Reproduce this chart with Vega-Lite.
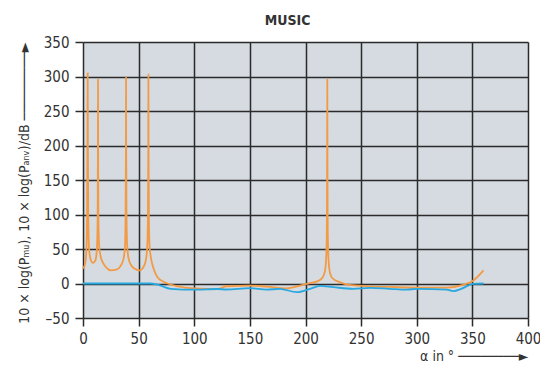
{
  "$schema": "https://vega.github.io/schema/vega-lite/v6.json",
  "autosize": {"type": "none"},
  "width": 445,
  "height": 276,
  "padding": {"left": 83, "top": 42, "right": 12, "bottom": 56},
  "background": "white",
  "title": {
    "text": "MUSIC",
    "fontSize": 14,
    "font": "DejaVu Sans Condensed, Liberation Sans, sans-serif",
    "fontWeight": "bold",
    "color": "#333333",
    "offset": 7,
    "dx": -18
  },
  "config": {
    "view": {"fill": "#d5dbe0", "stroke": null},
    "axis": {
      "labelFont": "DejaVu Sans Condensed, Liberation Sans, sans-serif",
      "titleFont": "DejaVu Sans Condensed, Liberation Sans, sans-serif",
      "labelFontSize": 15,
      "labelColor": "#333333",
      "titleColor": "#333333",
      "titleFontSize": 14,
      "titleFontWeight": "normal",
      "gridColor": "#2b2b2b",
      "gridWidth": 1.5,
      "gridOpacity": 1,
      "tickColor": "#2b2b2b",
      "tickWidth": 1.5,
      "tickSize": 8,
      "domain": false
    }
  },
  "data": {
    "values": [
      {"alpha": 0, "v": 22, "s": "mu"},
      {"alpha": 1, "v": 24, "s": "mu"},
      {"alpha": 2, "v": 30, "s": "mu"},
      {"alpha": 3, "v": 45, "s": "mu"},
      {"alpha": 3.7, "v": 100, "s": "mu"},
      {"alpha": 4.0, "v": 200, "s": "mu"},
      {"alpha": 4.2, "v": 305, "s": "mu"},
      {"alpha": 4.4, "v": 200, "s": "mu"},
      {"alpha": 4.7, "v": 100, "s": "mu"},
      {"alpha": 5.5, "v": 50, "s": "mu"},
      {"alpha": 7, "v": 34, "s": "mu"},
      {"alpha": 8.8, "v": 30, "s": "mu"},
      {"alpha": 11, "v": 33, "s": "mu"},
      {"alpha": 12.5, "v": 50, "s": "mu"},
      {"alpha": 13.2, "v": 100, "s": "mu"},
      {"alpha": 13.4, "v": 200, "s": "mu"},
      {"alpha": 13.5, "v": 296, "s": "mu"},
      {"alpha": 13.6, "v": 200, "s": "mu"},
      {"alpha": 13.8, "v": 100, "s": "mu"},
      {"alpha": 14.5, "v": 55, "s": "mu"},
      {"alpha": 16, "v": 38, "s": "mu"},
      {"alpha": 18, "v": 30, "s": "mu"},
      {"alpha": 21, "v": 23, "s": "mu"},
      {"alpha": 25, "v": 19, "s": "mu"},
      {"alpha": 30, "v": 20, "s": "mu"},
      {"alpha": 34, "v": 26, "s": "mu"},
      {"alpha": 36.5, "v": 36, "s": "mu"},
      {"alpha": 37.8, "v": 55, "s": "mu"},
      {"alpha": 38.3, "v": 100, "s": "mu"},
      {"alpha": 38.6, "v": 200, "s": "mu"},
      {"alpha": 38.7, "v": 299, "s": "mu"},
      {"alpha": 38.8, "v": 200, "s": "mu"},
      {"alpha": 39.1, "v": 100, "s": "mu"},
      {"alpha": 39.7, "v": 55, "s": "mu"},
      {"alpha": 41, "v": 36, "s": "mu"},
      {"alpha": 43.5, "v": 26, "s": "mu"},
      {"alpha": 47, "v": 21, "s": "mu"},
      {"alpha": 50.7, "v": 19, "s": "mu"},
      {"alpha": 54, "v": 23, "s": "mu"},
      {"alpha": 56.5, "v": 34, "s": "mu"},
      {"alpha": 57.8, "v": 55, "s": "mu"},
      {"alpha": 58.4, "v": 100, "s": "mu"},
      {"alpha": 58.7, "v": 200, "s": "mu"},
      {"alpha": 58.8, "v": 303, "s": "mu"},
      {"alpha": 58.9, "v": 200, "s": "mu"},
      {"alpha": 59.2, "v": 100, "s": "mu"},
      {"alpha": 59.8, "v": 55, "s": "mu"},
      {"alpha": 61, "v": 38, "s": "mu"},
      {"alpha": 63, "v": 24, "s": "mu"},
      {"alpha": 65, "v": 15, "s": "mu"},
      {"alpha": 67, "v": 9, "s": "mu"},
      {"alpha": 72, "v": 3, "s": "mu"},
      {"alpha": 76, "v": 0, "s": "mu"},
      {"alpha": 85, "v": -4, "s": "mu"},
      {"alpha": 100, "v": -7, "s": "mu"},
      {"alpha": 121, "v": -8, "s": "mu"},
      {"alpha": 129, "v": -4, "s": "mu"},
      {"alpha": 150, "v": -3, "s": "mu"},
      {"alpha": 165, "v": -4.5, "s": "mu"},
      {"alpha": 183, "v": -7, "s": "mu"},
      {"alpha": 195, "v": -3, "s": "mu"},
      {"alpha": 204, "v": 0.5, "s": "mu"},
      {"alpha": 211, "v": 3.5, "s": "mu"},
      {"alpha": 215, "v": 8, "s": "mu"},
      {"alpha": 217.5, "v": 18, "s": "mu"},
      {"alpha": 218.8, "v": 45, "s": "mu"},
      {"alpha": 219.3, "v": 100, "s": "mu"},
      {"alpha": 219.5, "v": 200, "s": "mu"},
      {"alpha": 219.6, "v": 296, "s": "mu"},
      {"alpha": 219.7, "v": 200, "s": "mu"},
      {"alpha": 219.9, "v": 100, "s": "mu"},
      {"alpha": 220.4, "v": 45, "s": "mu"},
      {"alpha": 221.7, "v": 18, "s": "mu"},
      {"alpha": 224, "v": 8, "s": "mu"},
      {"alpha": 230.7, "v": 2, "s": "mu"},
      {"alpha": 239.7, "v": -2, "s": "mu"},
      {"alpha": 248.6, "v": -3, "s": "mu"},
      {"alpha": 255, "v": -4.3, "s": "mu"},
      {"alpha": 275.6, "v": -5, "s": "mu"},
      {"alpha": 300, "v": -6, "s": "mu"},
      {"alpha": 327, "v": -6, "s": "mu"},
      {"alpha": 341.6, "v": -2, "s": "mu"},
      {"alpha": 350.6, "v": 4, "s": "mu"},
      {"alpha": 360, "v": 19, "s": "mu"},
      {"alpha": 0, "v": 0, "s": "anv"},
      {"alpha": 30, "v": 0, "s": "anv"},
      {"alpha": 60, "v": 0, "s": "anv"},
      {"alpha": 67, "v": -1.5, "s": "anv"},
      {"alpha": 79, "v": -7.7, "s": "anv"},
      {"alpha": 100, "v": -9, "s": "anv"},
      {"alpha": 121, "v": -8, "s": "anv"},
      {"alpha": 129, "v": -8.7, "s": "anv"},
      {"alpha": 150, "v": -6.8, "s": "anv"},
      {"alpha": 165, "v": -9, "s": "anv"},
      {"alpha": 177, "v": -7.7, "s": "anv"},
      {"alpha": 192, "v": -12.6, "s": "anv"},
      {"alpha": 204, "v": -7.7, "s": "anv"},
      {"alpha": 213, "v": -3.4, "s": "anv"},
      {"alpha": 225, "v": -5.3, "s": "anv"},
      {"alpha": 243, "v": -7.7, "s": "anv"},
      {"alpha": 258, "v": -6.3, "s": "anv"},
      {"alpha": 275.6, "v": -7.7, "s": "anv"},
      {"alpha": 290.6, "v": -9, "s": "anv"},
      {"alpha": 300, "v": -7.7, "s": "anv"},
      {"alpha": 327, "v": -9, "s": "anv"},
      {"alpha": 333, "v": -11, "s": "anv"},
      {"alpha": 340, "v": -7.7, "s": "anv"},
      {"alpha": 350.6, "v": -0.5, "s": "anv"},
      {"alpha": 360, "v": 0, "s": "anv"}
    ]
  },
  "mark": {"type": "line", "strokeWidth": 1.8, "interpolate": "monotone"},
  "encoding": {
    "x": {
      "field": "alpha",
      "type": "quantitative",
      "scale": {"domain": [0, 400], "nice": false},
      "axis": {
        "values": [0, 50, 100, 150, 200, 250, 300, 350, 400],
        "title": "α in ° ────────►",
        "titleAnchor": "end",
        "titlePadding": 3,
        "labelPadding": 5,
        "labelFlush": false
      }
    },
    "y": {
      "field": "v",
      "type": "quantitative",
      "scale": {"domain": [-50, 350], "nice": false},
      "axis": {
        "values": [-50, 0, 50, 100, 150, 200, 250, 300, 350],
        "labelExpr": "replace(datum.label, '−', '–')",
        "title": "10 × log(Pₘᵤ), 10 × log(Pₐₙᵥ)/dB ─────────►",
        "titleAnchor": "end",
        "titlePadding": 12,
        "labelPadding": 6,
        "labelFlush": false
      }
    },
    "color": {
      "field": "s",
      "type": "nominal",
      "scale": {"domain": ["mu", "anv"], "range": ["#f39a45", "#28a8e0"]},
      "legend": null
    },
    "order": {"field": "alpha", "type": "quantitative"}
  }
}
